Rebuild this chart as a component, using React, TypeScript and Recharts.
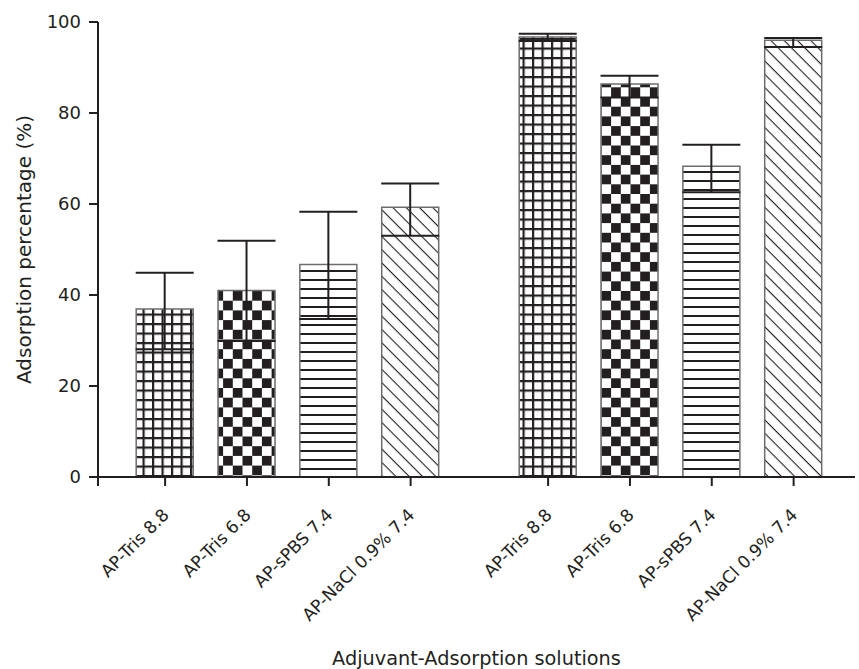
import React from "react";
import { BarChart, Bar, XAxis, YAxis, Cell, ErrorBar, Label } from "recharts";

// two groups of the same four adjuvant solutions
const categories = [
  "AP-Tris 8.8",
  "AP-Tris 6.8",
  "AP-sPBS 7.4",
  "AP-NaCl 0.9% 7.4",
  "AP-Tris 8.8",
  "AP-Tris 6.8",
  "AP-sPBS 7.4",
  "AP-NaCl 0.9% 7.4",
];
// slot index on the x axis (second group sits after a gap)
const slots = [1, 2, 3, 4, 5.68, 6.68, 7.68, 8.68];
const adsorption = [36.9, 41.0, 46.7, 59.3, 96.7, 86.4, 68.3, 96.0];
const errLow = [8.8, 11.1, 12.0, 6.3, 0.9, 3.0, 5.7, 1.5];
const errHigh = [8.0, 10.9, 11.6, 5.2, 0.7, 1.8, 4.7, 0.5];
const yTicks = [0, 20, 40, 60, 80, 100];
const xDomain = [0.18, 9.43];

const INK = "#231f20";
const FONT = "'DejaVu Sans', 'Open Sans', sans-serif";
const PATTERNS = ["pGrid", "pCheck", "pHoriz", "pDiag"];

const data = categories.map((name, i) => ({
  name,
  slot: slots[i],
  value: adsorption[i],
  err: [errLow[i], errHigh[i]],
}));

const XTick = (props: any) => {
  const { x, y, payload } = props;
  const idx = slots.indexOf(payload.value);
  if (idx < 0) return null;
  const tx = x + 5;
  const ty = y + 28;
  return (
    <text
      x={tx}
      y={ty}
      transform={`rotate(-45 ${tx} ${ty})`}
      textAnchor="end"
      fill={INK}
      fontSize={17.2}
      fontFamily={FONT}
    >
      {categories[idx]}
    </text>
  );
};

export default function App() {
  return (
    <div style={{ position: "absolute", left: 0, top: 0, background: "#fff" }}>
      <BarChart
        width={859}
        height={669}
        data={data}
        margin={{ top: 22, right: 4, left: 0, bottom: 0 }}
      >
        <defs>
          <pattern id="pGrid" width="9.5" height="9.5" patternUnits="userSpaceOnUse">
            <rect width="9.5" height="9.5" fill="#fff" />
            <rect x="0" y="0" width="2.2" height="9.5" fill={INK} />
            <rect x="0" y="0" width="9.5" height="2.2" fill={INK} />
          </pattern>
          <pattern id="pCheck" width="19.4" height="19.4" patternUnits="userSpaceOnUse">
            <rect width="19.4" height="19.4" fill="#fff" />
            <rect x="0" y="0" width="9.7" height="9.7" fill={INK} />
            <rect x="9.7" y="9.7" width="9.7" height="9.7" fill={INK} />
          </pattern>
          <pattern id="pHoriz" width="10" height="9" patternUnits="userSpaceOnUse">
            <rect width="10" height="9" fill="#fff" />
            <rect x="0" y="0" width="10" height="2" fill={INK} />
          </pattern>
          <pattern
            id="pDiag"
            width="9.4"
            height="9.4"
            patternUnits="userSpaceOnUse"
            patternTransform="rotate(45)"
          >
            <rect width="9.4" height="9.4" fill="#fff" />
            <rect x="0" y="0" width="9.4" height="1.1" fill={INK} />
          </pattern>
        </defs>
        <XAxis
          dataKey="slot"
          type="number"
          domain={xDomain}
          allowDataOverflow
          ticks={[xDomain[0], ...slots]}
          interval={0}
          height={192}
          tickSize={9}
          axisLine={{ stroke: INK, strokeWidth: 2 }}
          tickLine={{ stroke: INK, strokeWidth: 2 }}
          tick={<XTick />}
        >
          <Label
            value="Adjuvant-Adsorption solutions"
            position="insideBottom"
            offset={4}
            fill={INK}
            fontSize={19.3}
            fontFamily={FONT}
          />
        </XAxis>
        <YAxis
          domain={[0, 100]}
          ticks={yTicks}
          width={98}
          tickSize={9}
          tickMargin={8}
          axisLine={{ stroke: INK, strokeWidth: 2 }}
          tickLine={{ stroke: INK, strokeWidth: 2 }}
          tick={{ fill: INK, fontSize: 18, fontFamily: FONT }}
        >
          <Label
            value="Adsorption percentage (%)"
            angle={-90}
            position="insideLeft"
            offset={24}
            fill={INK}
            fontSize={20}
            fontFamily={FONT}
            style={{ textAnchor: "middle" }}
          />
        </YAxis>
        <Bar dataKey="value" barSize={57} stroke="#6d6d6d" strokeWidth={1.5} isAnimationActive={false}>
          {data.map((d, i) => (
            <Cell key={i} fill={`url(#${PATTERNS[i % 4]})`} />
          ))}
          <ErrorBar dataKey="err" width={29} stroke={INK} strokeWidth={2} />
        </Bar>
      </BarChart>
    </div>
  );
}
